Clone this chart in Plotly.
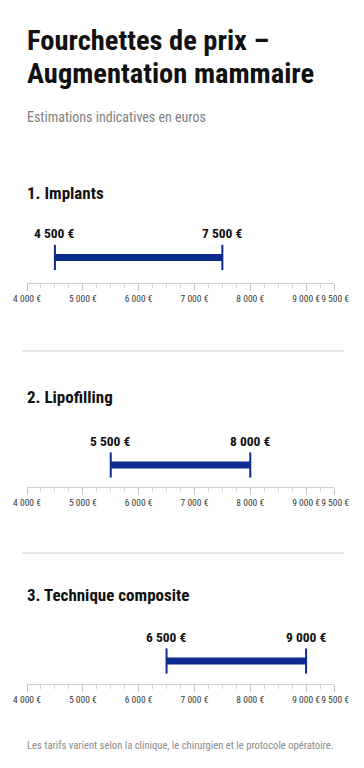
import plotly.graph_objects as go

# ---- data ----
TITLE_LINES = ["Fourchettes de prix –", "Augmentation mammaire"]
SUBTITLE = "Estimations indicatives en euros"
FOOTER = "Les tarifs varient selon la clinique, le chirurgien et le protocole opératoire."
SECTIONS = ["1. Implants", "2. Lipofilling", "3. Technique composite"]
LOW = [4500, 5500, 6500]
HIGH = [7500, 8000, 9000]
LOW_LABELS = ["4 500 €", "5 500 €", "6 500 €"]
HIGH_LABELS = ["7 500 €", "8 000 €", "9 000 €"]
TICK_VALS = [4000, 5000, 6000, 7000, 8000, 9000, 9500]
TICK_TEXT = ["4 000 €", "5 000 €", "6 000 €", "7 000 €", "8 000 €", "9 000 €", "9 500 €"]

# ---- layout constants ----
W, H = 364, 768
NAVY = "#0b2c8c"
COND = "Roboto Condensed, Roboto, sans-serif"
AXIS_PX = [283, 487, 684]
BAR_PX = [257.5, 465, 661]
HEADER_PX = [193, 397, 595]
SEP_PX = [351, 553]

# last tick label nudged right slightly (padding only) so it doesn't collide with its neighbour
tick_display = TICK_TEXT[:-1] + ["\u00a0" + TICK_TEXT[-1]]

def py(px):
    return 1 - px / H

fig = go.Figure()
annotations = []
shapes = []
layout_axes = {}

for i in range(3):
    n = "" if i == 0 else str(i + 1)
    xa, ya = "x" + n, "y" + n
    A, B = AXIS_PX[i], BAR_PX[i]
    top = A - 2 * (A - B)
    layout_axes["xaxis" + n] = dict(
        domain=[27 / W, 334 / W], anchor=ya, range=[TICK_VALS[0], TICK_VALS[-1]],
        automargin=False, tickangle=0,
        showline=True, linecolor="#cfcfcf", linewidth=1,
        ticks="outside", ticklen=7, tickwidth=1, tickcolor="#c4c4c4",
        tickvals=TICK_VALS, ticktext=tick_display,
        tickfont=dict(family=COND, size=9.5, color="#3a3a3a"),
        minor=dict(dtick=250, tick0=4000, ticks="outside", ticklen=4, tickcolor="#d8d8d8"),
        showgrid=False, zeroline=False, fixedrange=True,
    )
    layout_axes["yaxis" + n] = dict(
        domain=[py(A), py(top)], anchor=xa, range=[0, 1], visible=False, fixedrange=True,
        automargin=False,
    )
    fig.add_trace(go.Scatter(
        x=[LOW[i], HIGH[i]], y=[0.5, 0.5], xaxis=xa, yaxis=ya, mode="lines",
        line=dict(color=NAVY, width=7), hoverinfo="skip", showlegend=False, cliponaxis=False,
    ))
    fig.add_trace(go.Scatter(
        x=[LOW[i], HIGH[i]], y=[0.5, 0.5], xaxis=xa, yaxis=ya, mode="markers",
        marker=dict(symbol="line-ns", size=18, line=dict(color=NAVY, width=2)),
        hoverinfo="skip", showlegend=False, cliponaxis=False,
    ))
    for xv, lab in ((LOW[i], LOW_LABELS[i]), (HIGH[i], HIGH_LABELS[i])):
        annotations.append(dict(
            x=xv, y=0.5, xref=xa, yref=ya, text=lab, showarrow=False,
            yshift=24, xanchor="center", yanchor="middle",
            font=dict(family=COND, size=13.5, color="#111111", weight=700),
        ))
    annotations.append(dict(
        x=25 / W, y=py(HEADER_PX[i]), xref="paper", yref="paper", text=SECTIONS[i],
        showarrow=False, xanchor="left", yanchor="middle",
        font=dict(family=COND, size=17, color="#111111", weight=700),
    ))

annotations.append(dict(x=25 / W, y=py(40), xref="paper", yref="paper", text=TITLE_LINES[0],
                        showarrow=False, xanchor="left", yanchor="middle",
                        font=dict(family=COND, size=28.5, color="#111111", weight=700)))
annotations.append(dict(x=25 / W, y=py(73), xref="paper", yref="paper", text=TITLE_LINES[1],
                        showarrow=False, xanchor="left", yanchor="middle",
                        font=dict(family=COND, size=28.5, color="#111111", weight=700)))
annotations.append(dict(x=25 / W, y=py(117), xref="paper", yref="paper", text=SUBTITLE,
                        showarrow=False, xanchor="left", yanchor="middle",
                        font=dict(family=COND, size=14, color="#808080")))
annotations.append(dict(x=25 / W, y=py(745), xref="paper", yref="paper", text=FOOTER,
                        showarrow=False, xanchor="left", yanchor="middle",
                        font=dict(family=COND, size=10.6, color="#8a8a8a")))

for s in SEP_PX:
    shapes.append(dict(type="line", xref="paper", yref="paper", x0=22 / W, x1=344 / W,
                       y0=py(s), y1=py(s), line=dict(color="#dedede", width=1.5)))

fig.update_layout(
    width=W, height=H, margin=dict(l=0, r=0, t=0, b=0),
    paper_bgcolor="white", plot_bgcolor="white",
    annotations=annotations, shapes=shapes, showlegend=False,
    **layout_axes,
)

fig.write_html("out.html", config={"displayModeBar": False})
